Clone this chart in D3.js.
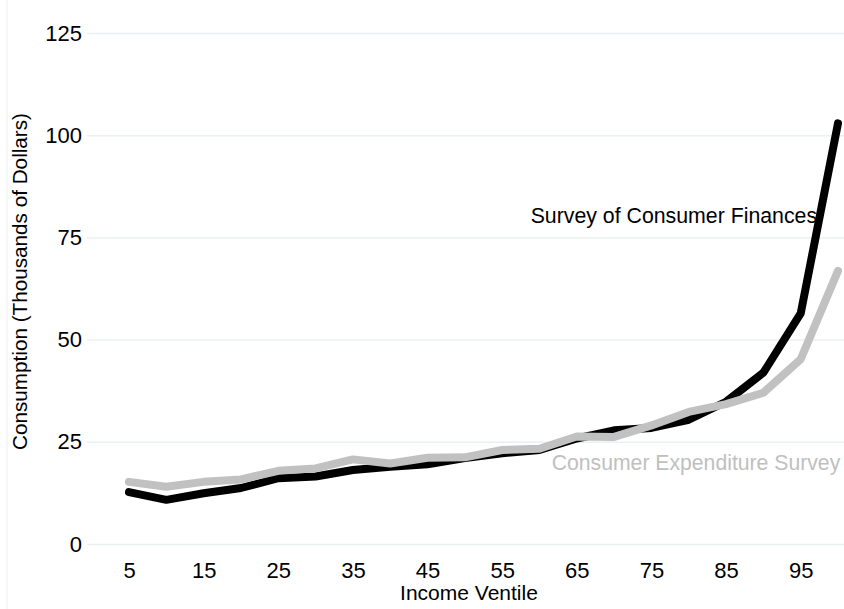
<!DOCTYPE html>
<html>
<head>
<meta charset="utf-8">
<script src="https://cdn.jsdelivr.net/npm/d3@7"></script>
<style>
  body { margin: 0; background: #fff; }
  text { font-family: "Liberation Sans", Arial, Helvetica, sans-serif; }
</style>
</head>
<body>
<svg id="chart" width="844" height="609"></svg>
<script>
var ventiles = [5, 10, 15, 20, 25, 30, 35, 40, 45, 50, 55, 60, 65, 70, 75, 80, 85, 90, 95, 100];
var scf = [12.7, 10.8, 12.4, 13.7, 16.1, 16.5, 18.1, 18.9, 19.5, 21.0, 22.2, 23.0, 25.8, 27.8, 28.4, 30.4, 34.8, 41.9, 56.4, 102.9];
var ces = [15.2, 14.0, 15.2, 15.8, 17.9, 18.5, 20.7, 19.7, 21.1, 21.2, 23.0, 23.3, 26.3, 26.2, 29.0, 32.3, 34.2, 37.0, 45.2, 66.8];
var yTicks = [0, 25, 50, 75, 100, 125];
var xTicks = [5, 15, 25, 35, 45, 55, 65, 75, 85, 95];

var svg = d3.select("#chart");

var x = d3.scaleLinear().domain([5, 100]).range([129, 838]);
var y = d3.scaleLinear().domain([0, 125]).range([544, 33]);

// faint border at the far left
svg.append("line")
    .attr("x1", 7).attr("x2", 7).attr("y1", 0).attr("y2", 609)
    .attr("stroke", "#f0f0f0").attr("stroke-width", 1);

// y axis with gridlines
var yAxis = svg.append("g")
    .attr("transform", "translate(87,0)")
    .call(d3.axisLeft(y).tickValues(yTicks).tickSize(-(844 - 87)).tickPadding(5));
yAxis.select(".domain").remove();
yAxis.selectAll(".tick line").attr("stroke", "#eaf0f2").attr("stroke-width", 1.5);
yAxis.selectAll(".tick text").attr("font-size", "22px").attr("fill", "#000")
    .style("font-family", "'Liberation Sans', Arial, sans-serif");

// x axis
var xAxis = svg.append("g")
    .attr("transform", "translate(0,544)")
    .call(d3.axisBottom(x).tickValues(xTicks).tickSize(0).tickPadding(18));
xAxis.select(".domain").remove();
xAxis.selectAll(".tick text").attr("font-size", "22px").attr("fill", "#000")
    .style("font-family", "'Liberation Sans', Arial, sans-serif");

var line = d3.line()
    .x(function(d, i) { return x(ventiles[i]); })
    .y(function(d) { return y(d); });

svg.append("path")
    .datum(scf)
    .attr("d", line)
    .attr("fill", "none")
    .attr("stroke", "#000")
    .attr("stroke-width", 8)
    .attr("stroke-linejoin", "round")
    .attr("stroke-linecap", "round");

svg.append("path")
    .datum(ces)
    .attr("d", line)
    .attr("fill", "none")
    .attr("stroke", "#c1c1c1")
    .attr("stroke-width", 8)
    .attr("stroke-linejoin", "round")
    .attr("stroke-linecap", "round");

// series labels
svg.append("text")
    .attr("x", x(97.2)).attr("y", y(78.5))
    .attr("text-anchor", "end")
    .attr("font-size", "21.3px")
    .attr("fill", "#000")
    .text("Survey of Consumer Finances");

svg.append("text")
    .attr("x", x(100.3)).attr("y", y(18.1))
    .attr("text-anchor", "end")
    .attr("font-size", "21.2px")
    .attr("fill", "#c0c0c0")
    .text("Consumer Expenditure Survey");

// axis titles
svg.append("text")
    .attr("x", 469).attr("y", 600)
    .attr("text-anchor", "middle")
    .attr("font-size", "21px")
    .text("Income Ventile");

svg.append("text")
    .attr("transform", "translate(27,281.5) rotate(-90)")
    .attr("text-anchor", "middle")
    .attr("font-size", "20.7px")
    .text("Consumption (Thousands of Dollars)");
</script>
</body>
</html>
